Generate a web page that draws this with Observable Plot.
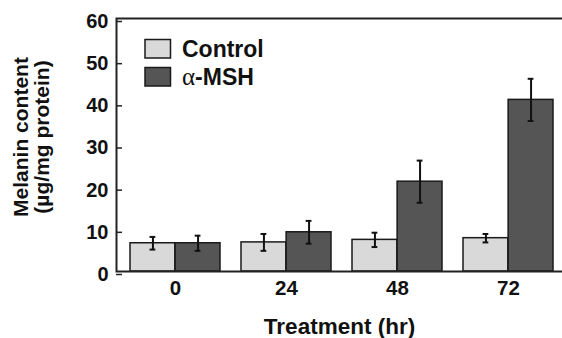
<!DOCTYPE html>
<html><head><meta charset="utf-8">
<script src="https://cdn.jsdelivr.net/npm/d3@7"></script>
<script src="https://cdn.jsdelivr.net/npm/@observablehq/plot@0.6"></script>
<style>
body{margin:0;background:#fff;}
#wrap{position:relative;width:562px;height:338px;}
#legend{position:absolute;left:0;top:0;pointer-events:none;}
</style></head><body><div id="wrap"></div>
<script>
// Data
const times = ["0", "24", "48", "72"];
const seriesNames = ["Control", "α-MSH"];
const controlMean = [6.7, 6.9, 7.5, 7.9];
const controlErr = [1.5, 2.0, 1.7, 1.0];
const mshMean = [6.7, 9.3, 21.3, 40.7];
const mshErr = [1.8, 2.7, 5.0, 5.0];
const yTicks = [0, 10, 20, 30, 40, 50, 60];
const colors = ["#d9d9d9", "#555555"];

const control = times.map((t, i) => ({time: t, mean: controlMean[i], lo: controlMean[i] - controlErr[i], hi: controlMean[i] + controlErr[i]}));
const msh = times.map((t, i) => ({time: t, mean: mshMean[i], lo: mshMean[i] - mshErr[i], hi: mshMean[i] + mshErr[i]}));

const FONT = "'Liberation Sans', Arial, Helvetica, sans-serif";
const xRange = [129, 553.5], pInner = 0.19;
const bw = (xRange[1] - xRange[0]) / (times.length - pInner) * (1 - pInner);
const half = bw / 2;
const capW = 6;

const chart = Plot.plot({
  width: 562, height: 338,
  marginLeft: 116, marginRight: 0, marginTop: 18, marginBottom: 67,
  style: {fontFamily: FONT, fontWeight: "bold", color: "#111", background: "#fff"},
  x: {domain: times, range: xRange, paddingInner: pInner, paddingOuter: 0},
  y: {domain: [0, 60]},
  marks: [
    Plot.barY(control, {x: "time", y: "mean", fill: colors[0], stroke: "#1a1a1a", strokeWidth: 1.5, insetRight: half}),
    Plot.barY(msh, {x: "time", y: "mean", fill: colors[1], stroke: "#1a1a1a", strokeWidth: 1.5, insetLeft: half}),
    Plot.ruleX(control, {x: "time", y1: "lo", y2: "hi", dx: -half / 2, stroke: "#111", strokeWidth: 2}),
    Plot.ruleX(msh, {x: "time", y1: "lo", y2: "hi", dx: half / 2, stroke: "#111", strokeWidth: 2}),
    Plot.tickY(control, {x: "time", y: "hi", insetLeft: half / 2 - capW / 2, insetRight: half * 1.5 - capW / 2, stroke: "#111", strokeWidth: 2}),
    Plot.tickY(control, {x: "time", y: "lo", insetLeft: half / 2 - capW / 2, insetRight: half * 1.5 - capW / 2, stroke: "#111", strokeWidth: 2}),
    Plot.tickY(msh, {x: "time", y: "hi", insetLeft: half * 1.5 - capW / 2, insetRight: half / 2 - capW / 2, stroke: "#111", strokeWidth: 2}),
    Plot.tickY(msh, {x: "time", y: "lo", insetLeft: half * 1.5 - capW / 2, insetRight: half / 2 - capW / 2, stroke: "#111", strokeWidth: 2}),
    Plot.frame({stroke: "#222", strokeWidth: 2, insetRight: -4}),
    Plot.axisY(yTicks, {anchor: "left", tickSize: -6, tickPadding: 14, fontSize: 20, dy: 3, label: null, stroke: "#222", strokeWidth: 1.5}),
    Plot.axisX({anchor: "bottom", tickSize: 0, tickPadding: 9, fontSize: 20.5, label: null}),
    Plot.text(["Treatment (hr)"], {frameAnchor: "bottom", dy: 47, lineAnchor: "top", fontSize: 22.5, fontWeight: "bold", fill: "#111"}),
    Plot.text(["Melanin content\n(µg/mg protein)"], {frameAnchor: "left", textAnchor: "middle", rotate: -90, dx: -85, dy: -8, lineHeight: 1, fontSize: 21, fontWeight: "bold", fill: "#111"})
  ]
});

const wrap = document.getElementById("wrap");
wrap.appendChild(chart);

// Legend overlay (inside the plot area, upper left)
const leg = d3.select(wrap).append("svg").attr("id", "legend").attr("width", 562).attr("height", 338);
const rows = [{name: seriesNames[0], color: colors[0], y: 39.5}, {name: seriesNames[1], color: colors[1], y: 67.5}];
rows.forEach(r => {
  leg.append("rect").attr("x", 145).attr("y", r.y).attr("width", 25.5).attr("height", 18.5)
    .attr("fill", r.color).attr("stroke", "#1a1a1a").attr("stroke-width", 1.5);
  const t = leg.append("text").attr("x", 182).attr("y", r.y + 17.5)
    .attr("font-family", FONT).attr("font-weight", "bold").attr("font-size", 23).attr("fill", "#111");
  if (r.name.startsWith("α")) {
    t.append("tspan").attr("font-family", "'Liberation Serif', 'DejaVu Serif', serif").attr("font-weight", "normal").attr("font-size", 25).text("α");
    t.append("tspan").text(r.name.slice(1));
  } else {
    t.text(r.name);
  }
});
</script></body></html>
